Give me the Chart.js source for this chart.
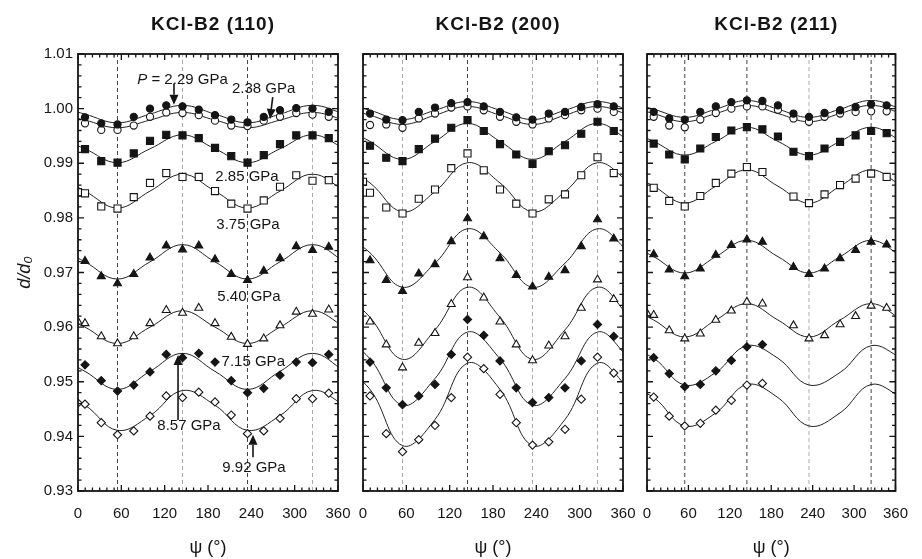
<!DOCTYPE html>
<html>
<head>
<meta charset="utf-8">
<script src="https://cdn.jsdelivr.net/npm/chart.js@4.4.1/dist/chart.umd.min.js"></script>
<style>
  body { margin: 0; background: #fff; }
  #wrap { position: relative; width: 922px; height: 559px; }
  #wrap canvas { position: absolute; left: 0; top: 0; }
</style>
</head>
<body>
<div id="wrap">
  <canvas id="c110" width="922" height="559"></canvas>
  <canvas id="c200" width="922" height="559"></canvas>
  <canvas id="c211" width="922" height="559"></canvas>
</div>
<script>
// psi angles of the measured points (index 0 is the cut point at psi = 0)
const psi = [0, 9.7, 32.2, 54.7, 77.2, 99.7, 122.2, 144.7, 167.2, 189.7, 212.2, 234.7, 257.2, 279.7, 302.2, 324.7, 347.2];
const fitPsi = [-35.3, 9.7, 54.7, 99.7, 144.7, 189.7, 234.7, 279.7, 324.7, 369.7];
// dashed reference lines
const hydroPsi = [54.7, 144.7, 234.7, 324.7];
const pressures = ["2.29", "2.38", "2.85", "3.75", "5.40", "7.15", "8.57", "9.92"];
const xTicks = [0, 60, 120, 180, 240, 300, 360];
const yTicks = [0.93, 0.94, 0.95, 0.96, 0.97, 0.98, 0.99, 1.00, 1.01];

// KCl-B2 (110) d/d0, one row per pressure
const pts110 = [
  [null, 0.9984, 0.9973, 0.9971, 0.9985, 1.0000, 1.0006, 1.0004, 0.9998, 0.9988, 0.9980, 0.9975, 0.9985, 0.9997, 1.0001, 1.0000, 0.9994],
  [null, 0.9973, 0.9961, 0.9961, 0.9969, 0.9985, 0.9993, 0.9992, 0.9988, 0.9978, 0.9969, 0.9968, 0.9978, 0.9985, 0.9992, 0.9989, 0.9985],
  [null, 0.9926, 0.9904, 0.9901, 0.9918, 0.9941, 0.9952, 0.9951, 0.9946, 0.9928, 0.9913, 0.9901, 0.9915, 0.9935, 0.9951, 0.9951, 0.9946],
  [0.9847, 0.9845, 0.9821, 0.9817, 0.9838, 0.9864, 0.9882, 0.9875, 0.9875, 0.9849, 0.9826, 0.9817, 0.9832, 0.9857, 0.9878, 0.9868, 0.9869],
  [null, 0.9721, 0.9693, 0.9680, 0.9697, 0.9727, 0.9749, 0.9742, 0.9749, 0.9724, 0.9697, 0.9686, 0.9703, 0.9726, 0.9748, 0.9741, 0.9747],
  [0.9610, 0.9607, 0.9583, 0.9570, 0.9583, 0.9607, 0.9631, 0.9626, 0.9635, 0.9607, 0.9582, 0.9569, 0.9579, 0.9603, 0.9628, 0.9624, 0.9632],
  [null, 0.9531, 0.9502, 0.9483, 0.9494, 0.9518, 0.9550, 0.9544, 0.9552, 0.9536, 0.9502, 0.9480, 0.9488, 0.9512, 0.9536, 0.9535, 0.9550],
  [0.9461, 0.9459, 0.9425, 0.9403, 0.9410, 0.9437, 0.9474, 0.9471, 0.9481, 0.9463, 0.9439, 0.9405, 0.9410, 0.9433, 0.9469, 0.9469, 0.9479]
];
const fit110 = [
  [1.0006, 0.9990, 0.9974, 0.9990, 1.0006, 0.9990, 0.9974, 0.9990, 1.0006, 0.9990],
  [0.9993, 0.9979, 0.9965, 0.9979, 0.9993, 0.9979, 0.9965, 0.9979, 0.9993, 0.9979],
  [0.9952, 0.99265, 0.9901, 0.99265, 0.9952, 0.99265, 0.9901, 0.99265, 0.9952, 0.99265],
  [0.9880, 0.9849, 0.9818, 0.9849, 0.9880, 0.9849, 0.9818, 0.9849, 0.9880, 0.9849],
  [0.9751, 0.97195, 0.9688, 0.97195, 0.9751, 0.97195, 0.9688, 0.97195, 0.9751, 0.97195],
  [0.9630, 0.9600, 0.9570, 0.9600, 0.9630, 0.9600, 0.9570, 0.9600, 0.9630, 0.9600],
  [0.9552, 0.9519, 0.9486, 0.9519, 0.9552, 0.9519, 0.9486, 0.9519, 0.9552, 0.9519],
  [0.9484, 0.9457, 0.9411, 0.9438, 0.9484, 0.9457, 0.9411, 0.9438, 0.9484, 0.9457]
];

// KCl-B2 (200)
const pts200 = [
  [null, 0.9991, 0.9980, 0.9979, 0.9994, 1.0002, 1.0010, 1.0012, 1.0004, 0.9994, 0.9984, 0.9980, 0.9991, 0.9994, 1.0003, 1.0008, 1.0004],
  [null, 0.9970, 0.9971, 0.9965, 0.9982, 0.9991, 1.0002, 1.0004, 0.9997, 0.9985, 0.9976, 0.9971, 0.9982, 0.9988, 0.9997, 1.0000, 0.9994],
  [null, 0.9932, 0.9910, 0.9904, 0.9926, 0.9945, 0.9965, 0.9979, 0.9959, 0.9935, 0.9916, 0.9899, 0.9922, 0.9933, 0.9954, 0.9976, 0.9959],
  [0.9866, 0.9846, 0.9819, 0.9808, 0.9835, 0.9852, 0.9891, 0.9918, 0.9887, 0.9852, 0.9826, 0.9808, 0.9834, 0.9843, 0.9878, 0.9911, 0.9882],
  [null, 0.9722, 0.9686, 0.9666, 0.9698, 0.9715, 0.9757, 0.9799, 0.9766, 0.9726, 0.9695, 0.9674, 0.9692, 0.9704, 0.9748, 0.9797, 0.9762],
  [null, 0.9610, 0.9568, 0.9526, 0.9571, 0.9589, 0.9642, 0.9691, 0.9654, 0.9610, 0.9568, 0.9539, 0.9566, 0.9583, 0.9635, 0.9687, 0.9651],
  [null, 0.9536, 0.9489, 0.9458, 0.9474, 0.9495, 0.9550, 0.9614, 0.9585, 0.9538, 0.9489, 0.9462, 0.9471, 0.9489, 0.9538, 0.9605, 0.9583],
  [null, 0.9474, 0.9405, 0.9372, 0.9394, 0.9420, 0.9471, 0.9545, 0.9524, 0.9477, 0.9425, 0.9384, 0.9390, 0.9413, 0.9468, 0.9545, 0.9516]
];
const fit200 = [
  [1.0013, 0.9997, 0.9980, 0.9997, 1.0013, 0.9997, 0.9980, 0.9997, 1.0013, 0.9997],
  [1.0004, 0.9988, 0.9971, 0.9988, 1.0004, 0.9988, 0.9971, 0.9988, 1.0004, 0.9988],
  [0.9973, 0.9940, 0.9907, 0.9940, 0.9973, 0.9940, 0.9907, 0.9940, 0.9973, 0.9940],
  [0.9901, 0.9864, 0.9811, 0.9848, 0.9901, 0.9864, 0.9811, 0.9848, 0.9901, 0.9864],
  [0.9780, 0.9736, 0.9673, 0.9717, 0.9780, 0.9736, 0.9673, 0.9717, 0.9780, 0.9736],
  [0.9673, 0.9618, 0.9541, 0.9595, 0.9673, 0.9618, 0.9541, 0.9595, 0.9673, 0.9618],
  [0.9591, 0.9542, 0.9457, 0.9506, 0.9591, 0.9542, 0.9457, 0.9506, 0.9591, 0.9542],
  [0.9534, 0.9486, 0.9383, 0.9431, 0.9534, 0.9486, 0.9383, 0.9431, 0.9534, 0.9486]
];

// KCl-B2 (211)
const pts211 = [
  [null, 0.9994, 0.9982, 0.9980, 0.9994, 1.0004, 1.0012, 1.0015, 1.0014, 1.0006, 0.9991, 0.9985, 0.9992, 0.9997, 1.0003, 1.0008, 1.0006],
  [null, 0.9985, 0.9969, 0.9966, 0.9980, 0.9992, 1.0000, 1.0004, 1.0004, 0.9998, 0.9982, 0.9976, 0.9985, 0.9991, 0.9994, 0.9995, 0.9995],
  [null, 0.9936, 0.9916, 0.9907, 0.9927, 0.9948, 0.9960, 0.9966, 0.9962, 0.9949, 0.9921, 0.9913, 0.9927, 0.9939, 0.9951, 0.9959, 0.9955],
  [null, 0.9855, 0.9831, 0.9821, 0.9840, 0.9864, 0.9881, 0.9893, 0.9884, null, 0.9839, 0.9827, 0.9843, 0.9860, 0.9872, 0.9881, 0.9875],
  [null, 0.9733, 0.9705, 0.9693, 0.9707, 0.9732, 0.9750, 0.9760, 0.9756, null, 0.9710, 0.9697, 0.9707, 0.9726, 0.9741, 0.9756, 0.9751],
  [0.9625, 0.9622, 0.9594, 0.9579, 0.9588, 0.9613, 0.9630, 0.9646, 0.9643, null, 0.9603, 0.9579, 0.9585, 0.9605, 0.9620, 0.9639, 0.9635],
  [null, 0.9544, 0.9515, 0.9491, 0.9495, 0.9520, 0.9539, 0.9564, 0.9568, null, null, null, null, null, null, null, null],
  [null, 0.9472, 0.9437, 0.9419, 0.9424, 0.9448, 0.9466, 0.9494, 0.9497, null, null, null, null, null, null, null, null]
];
const fit211 = [
  [1.0015, 0.9999, 0.9984, 0.9999, 1.0015, 0.9999, 0.9984, 0.9999, 1.0015, 0.9999],
  [1.0006, 0.9991, 0.9976, 0.9991, 1.0006, 0.9991, 0.9976, 0.9991, 1.0006, 0.9991],
  [0.9966, 0.9940, 0.9915, 0.9940, 0.9966, 0.9940, 0.9915, 0.9940, 0.9966, 0.9940],
  [0.9888, 0.9858, 0.9827, 0.9858, 0.9888, 0.9858, 0.9827, 0.9858, 0.9888, 0.9858],
  [0.9759, 0.9729, 0.9699, 0.9729, 0.9759, 0.9729, 0.9699, 0.9729, 0.9759, 0.9729],
  [0.9643, 0.9613, 0.9582, 0.9613, 0.9643, 0.9613, 0.9582, 0.9613, 0.9643, 0.9613],
  [0.9566, 0.9543, 0.9494, 0.9517, 0.9566, 0.9543, 0.9494, 0.9517, 0.9566, 0.9543],
  [0.9495, 0.9471, 0.9419, 0.9443, 0.9495, 0.9471, 0.9419, 0.9443, 0.9495, 0.9471]
];

// pressure labels and arrows in the (110) panel, in data units
const notes110 = [
  { text: "2.38 GPa", psi: 257, d: 1.0036 },
  { text: "2.85 GPa", psi: 234, d: 0.9875 },
  { text: "3.75 GPa", psi: 235.4, d: 0.9787 },
  { text: "5.40 GPa", psi: 236.8, d: 0.9655 },
  { text: "7.15 GPa", psi: 242.7, d: 0.9536 },
  { text: "8.57 GPa", psi: 153.7, d: 0.9419 },
  { text: "9.92 GPa", psi: 243.7, d: 0.9342 }
];
const arrows110 = [
  { from: [132.9, 1.0046], to: [132.9, 1.0007] },
  { from: [269.6, 1.0021], to: [265.9, 0.9981] },
  { from: [138.5, 0.9430], to: [138.5, 0.9549] },
  { from: [242.3, 0.9362], to: [242.3, 0.9403] }
];

const FONT = "'Liberation Sans', Arial, Helvetica, sans-serif";
const INK = "#151515";
const markerStyle = ["circle", "circle", "rect", "rect", "triangle", "triangle", "rectRot", "rectRot"];
const markerFilled = [true, false, true, false, true, false, true, false];
const markerRadius = [3.6, 3.6, 5.0, 5.0, 4.6, 4.6, 4.1, 4.1];
const DARK = "#444";
const LIGHT = "#aaa";

// frame with inward ticks on all four sides, plus the panel title
const framePlugin = {
  id: "frame",
  afterDatasetsDraw(chart, args, opts) {
    const { ctx, chartArea: a, scales: { x, y } } = chart;
    ctx.save();
    ctx.strokeStyle = INK;
    ctx.lineWidth = 1.3;
    ctx.beginPath();
    for (let v = 0; v <= 360; v += 10) {
      const px = x.getPixelForValue(v);
      const len = v % 60 === 0 ? 6 : 3.5;
      ctx.moveTo(px, a.bottom); ctx.lineTo(px, a.bottom - len);
      ctx.moveTo(px, a.top); ctx.lineTo(px, a.top + len);
    }
    for (let i = 0; i <= 40; i++) {
      const py = y.getPixelForValue(0.93 + i * 0.002);
      const len = i % 5 === 0 ? 6 : 3.5;
      ctx.moveTo(a.left, py); ctx.lineTo(a.left + len, py);
      ctx.moveTo(a.right, py); ctx.lineTo(a.right - len, py);
    }
    ctx.stroke();
    ctx.lineWidth = 1.8;
    ctx.strokeRect(a.left, a.top, a.right - a.left, a.bottom - a.top);

    ctx.fillStyle = INK;
    ctx.font = "bold 19px " + FONT;
    ctx.letterSpacing = "1px";
    ctx.textAlign = "center";
    ctx.textBaseline = "middle";
    ctx.fillText(opts.title, (a.left + a.right) / 2 + 5, 25);
    ctx.restore();
  }
};

function arrow(ctx, x1, y1, x2, y2) {
  const ang = Math.atan2(y2 - y1, x2 - x1);
  const hl = 10, hw = 4.5;
  const bx = x2 - Math.cos(ang) * hl, by = y2 - Math.sin(ang) * hl;
  ctx.beginPath();
  ctx.moveTo(x1, y1);
  ctx.lineTo(bx, by);
  ctx.stroke();
  ctx.beginPath();
  ctx.moveTo(x2, y2);
  ctx.lineTo(bx - Math.sin(ang) * hw, by + Math.cos(ang) * hw);
  ctx.lineTo(bx + Math.sin(ang) * hw, by - Math.cos(ang) * hw);
  ctx.closePath();
  ctx.fill();
}

const notesPlugin = {
  id: "notes",
  afterDatasetsDraw(chart) {
    const { ctx, scales: { x, y } } = chart;
    ctx.save();
    ctx.fillStyle = INK;
    ctx.strokeStyle = INK;
    ctx.lineWidth = 1.6;
    ctx.textBaseline = "middle";
    ctx.font = "15px " + FONT;
    ctx.textAlign = "center";
    notes110.forEach(n => ctx.fillText(n.text, x.getPixelForValue(n.psi), y.getPixelForValue(n.d)));

    // "P = 2.29 GPa" with italic P
    const rest = " = 2.29 GPa";
    ctx.font = "italic 15px " + FONT;
    const wP = ctx.measureText("P").width;
    ctx.font = "15px " + FONT;
    const wR = ctx.measureText(rest).width;
    const cx = x.getPixelForValue(144.7), cy = y.getPixelForValue(1.0052);
    const x0 = cx - (wP + wR) / 2;
    ctx.textAlign = "left";
    ctx.font = "italic 15px " + FONT;
    ctx.fillText("P", x0, cy);
    ctx.font = "15px " + FONT;
    ctx.fillText(rest, x0 + wP, cy);

    arrows110.forEach(a => arrow(ctx,
      x.getPixelForValue(a.from[0]), y.getPixelForValue(a.from[1]),
      x.getPixelForValue(a.to[0]), y.getPixelForValue(a.to[1])));
    ctx.restore();
  }
};

function buildPanel(id, title, pts, fits, shades, pad, withY, extra) {
  const datasets = [];
  pts.forEach((row, k) => {
    const data = [];
    row.forEach((v, i) => { if (v !== null) data.push({ x: psi[i], y: v }); });
    datasets.push({
      label: pressures[k] + " GPa",
      data: data,
      showLine: false,
      pointStyle: markerStyle[k],
      pointRadius: markerRadius[k],
      pointHoverRadius: markerRadius[k],
      pointBorderWidth: 1.1,
      pointBorderColor: INK,
      pointBackgroundColor: markerFilled[k] ? INK : "#fff",
      clip: 0
    });
  });
  fits.forEach((row, k) => {
    datasets.push({
      label: "fit " + pressures[k],
      data: row.map((v, i) => ({ x: fitPsi[i], y: v })),
      borderColor: "#222",
      borderWidth: 1,
      pointRadius: 0,
      tension: 0.4,
      capBezierPoints: false,
      clip: 0
    });
  });
  hydroPsi.forEach((p, i) => {
    datasets.push({
      label: "psi " + p,
      data: [{ x: p, y: yTicks[0] }, { x: p, y: yTicks[yTicks.length - 1] }],
      borderColor: shades[i],
      borderDash: [4, 3],
      borderWidth: 1,
      pointRadius: 0,
      clip: 0
    });
  });

  return new Chart(document.getElementById(id), {
    type: "line",
    data: { datasets: datasets },
    plugins: [framePlugin].concat(extra),
    options: {
      responsive: false,
      animation: false,
      devicePixelRatio: 1,
      layout: { padding: pad },
      plugins: {
        legend: { display: false },
        tooltip: { enabled: false },
        frame: { title: title }
      },
      scales: {
        x: {
          type: "linear",
          min: xTicks[0],
          max: xTicks[xTicks.length - 1],
          afterFit(s) { s.height = 68; },
          afterBuildTicks(s) { s.ticks = xTicks.map(v => ({ value: v })); },
          grid: { display: false, drawTicks: false },
          border: { display: false },
          ticks: { padding: 14, autoSkip: false, maxRotation: 0, color: INK, font: { size: 15, family: FONT } },
          title: { display: true, text: "ψ (°)", color: INK, padding: 0, font: { size: 18, family: FONT } }
        },
        y: {
          type: "linear",
          display: withY,
          min: yTicks[0],
          max: yTicks[yTicks.length - 1],
          afterFit(s) { s.width = withY ? 64 : 0; },
          afterBuildTicks(s) { s.ticks = yTicks.map(v => ({ value: v })); },
          grid: { display: false, drawTicks: false },
          border: { display: false },
          ticks: { padding: 5, color: INK, font: { size: 15, family: FONT }, callback: v => v.toFixed(2) },
          title: { display: true, text: "d/d₀", color: INK, padding: 0, font: { size: 18, style: "italic", family: FONT } }
        }
      }
    }
  });
}

buildPanel("c110", "KCl-B2 (110)", pts110, fit110, [DARK, LIGHT, DARK, LIGHT],
  { left: 14, right: 584, top: 54, bottom: 0 }, true, [notesPlugin]);
buildPanel("c200", "KCl-B2 (200)", pts200, fit200, [LIGHT, DARK, LIGHT, LIGHT],
  { left: 363, right: 299, top: 54, bottom: 0 }, false, []);
buildPanel("c211", "KCl-B2 (211)", pts211, fit211, [DARK, DARK, LIGHT, DARK],
  { left: 647, right: 16, top: 54, bottom: 0 }, false, []);
</script>
</body>
</html>
